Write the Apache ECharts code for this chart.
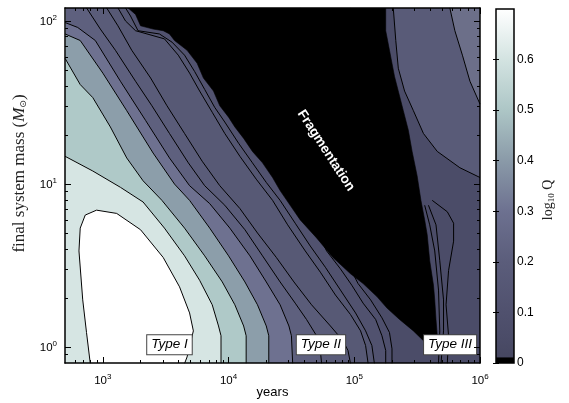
<!DOCTYPE html>
<html>
<head>
<meta charset="utf-8">
<script src="https://cdn.jsdelivr.net/npm/echarts@6/dist/echarts.min.js"></script>
<style>
html, body { margin: 0; padding: 0; background: #fff; }
#chart { width: 569px; height: 403px; }
</style>
</head>
<body>
<div id="chart"></div>
<script>
// Axis ranges, in log10 units (years on x, final system mass on y)
const X_MIN = Math.log10(500), X_MAX = 6;
const Y_MIN = Math.log10(0.8), Y_MAX = Math.log10(120);
const X_DECADES = [3, 4, 5, 6];
const Y_DECADES = [0, 1, 2];
const Q_TICKS = [0, 0.1, 0.2, 0.3, 0.4, 0.5, 0.6];
const Q_MAX = 0.7;

// Contour lines of log10 Q, as [log10 years, log10 mass] points.
// Highest level: closed region around the Type I peak.
const contourPeak = [[2.90,-0.10],[2.87,0.09],[2.84,0.29],[2.81,0.59],[2.82,0.73],[2.86,0.81],[2.95,0.84],[3.11,0.82],[3.30,0.72],[3.48,0.55],[3.61,0.37],[3.69,0.21],[3.72,0.10],[3.67,-0.06],[3.65,-0.10]];
// Then descending levels running from the upper left down to the bottom edge.
const contour1 = [[2.70,1.17],[2.92,1.08],[3.14,0.98],[3.32,0.89],[3.49,0.73],[3.65,0.56],[3.77,0.41],[3.87,0.26],[3.92,0.13],[3.94,0.07],[3.94,-0.10]];
const contour2 = [[2.70,1.77],[2.82,1.61],[2.92,1.53],[3.06,1.35],[3.19,1.16],[3.32,1.02],[3.47,0.90],[3.65,0.73],[3.81,0.56],[3.95,0.40],[4.05,0.26],[4.12,0.13],[4.14,0.07],[4.14,-0.10]];
const contour3 = [[2.70,1.92],[2.82,1.88],[3.00,1.68],[3.19,1.45],[3.40,1.19],[3.57,1.00],[3.69,0.90],[3.85,0.73],[4.00,0.56],[4.13,0.40],[4.23,0.26],[4.30,0.13],[4.32,0.07],[4.32,-0.10]];
const contour4 = [[2.70,1.99],[2.80,1.96],[2.94,1.88],[3.14,1.63],[3.34,1.39],[3.53,1.16],[3.69,0.99],[3.85,0.88],[4.01,0.73],[4.17,0.56],[4.30,0.40],[4.41,0.26],[4.48,0.13],[4.50,0.07],[4.51,-0.10]];
const contour5 = [[2.87,2.08],[2.98,1.95],[3.10,1.82],[3.26,1.63],[3.39,1.48],[3.53,1.31],[3.68,1.13],[3.81,0.99],[3.97,0.87],[4.13,0.72],[4.27,0.56],[4.41,0.40],[4.53,0.27],[4.62,0.17],[4.70,0.07],[4.73,-0.02],[4.74,-0.10]];
const contour6 = [[3.03,2.08],[3.12,1.97],[3.23,1.82],[3.38,1.65],[3.51,1.48],[3.65,1.31],[3.79,1.14],[3.93,0.99],[4.09,0.85],[4.23,0.70],[4.38,0.55],[4.52,0.40],[4.66,0.26],[4.81,0.13],[4.91,0.04],[4.95,-0.02],[4.97,-0.10]];
const contour7 = [[3.12,2.08],[3.18,2.00],[3.26,1.94],[3.49,1.89],[3.60,1.79],[3.69,1.68],[3.77,1.57],[3.87,1.44],[3.97,1.31],[4.09,1.17],[4.22,1.03],[4.35,0.90],[4.47,0.75],[4.61,0.59],[4.73,0.46],[4.85,0.32],[4.97,0.20],[5.05,0.10],[5.09,0.01],[5.11,-0.10]];
const contour8 = [[3.18,2.08],[3.22,2.03],[3.28,1.94],[3.45,1.92],[3.55,1.87],[3.65,1.79],[3.73,1.69],[3.81,1.58],[3.89,1.47],[3.97,1.38],[4.08,1.25],[4.19,1.13],[4.30,1.01],[4.41,0.90],[4.53,0.76],[4.65,0.62],[4.77,0.49],[4.89,0.35],[5.01,0.21],[5.09,0.10],[5.14,0.01],[5.16,-0.10]];
const contour9 = [[4.57,2.08],[4.71,0.70],[4.78,0.59],[4.89,0.48],[4.98,0.38],[5.07,0.27],[5.17,0.17],[5.22,0.07],[5.25,-0.02],[5.25,-0.10]];
const contour10 = [[4.97,2.08],[4.97,0.48],[5.03,0.39],[5.13,0.29],[5.22,0.18],[5.28,0.09],[5.30,-0.01],[5.30,-0.10]];
// Type III side: Q rises again towards the upper right corner
const contourLateA = [[5.31,2.08],[5.33,1.88],[5.35,1.71],[5.40,1.57],[5.47,1.45],[5.55,1.31],[5.66,1.20],[5.84,1.10],[6.00,1.04]];
const contourLateB = [[5.76,2.08],[5.80,1.94],[5.86,1.79],[5.92,1.63],[6.00,1.49]];
// narrow ridge next to the fragmentation edge, lower right
const ridge1 = [[5.56,0.87],[5.60,0.75],[5.64,0.59],[5.67,0.35],[5.68,0.10],[5.67,-0.10]];
const ridge2 = [[5.59,0.87],[5.65,0.75],[5.68,0.53],[5.71,0.29],[5.71,0.10],[5.69,-0.10]];
const ridge3 = [[5.62,0.90],[5.74,0.83],[5.79,0.76],[5.79,0.65],[5.75,0.47],[5.73,0.26],[5.75,0.07],[5.74,-0.10]];

// Fragmentation region: early edge and late edge, both listed top to bottom
const fragEarly = [[3.20,2.08],[3.26,2.04],[3.30,1.97],[3.40,1.95],[3.48,1.94],[3.53,1.92],[3.57,1.88],[3.67,1.82],[3.75,1.74],[3.80,1.65],[3.88,1.57],[3.93,1.48],[4.00,1.41],[4.05,1.35],[4.12,1.28],[4.19,1.20],[4.27,1.13],[4.35,1.04],[4.41,0.96],[4.49,0.87],[4.57,0.78],[4.70,0.67],[4.83,0.55],[4.97,0.45],[5.07,0.39],[5.18,0.31],[5.26,0.24],[5.36,0.17],[5.47,0.10],[5.55,0.04],[5.63,0.00]];
const fragLate = [[5.25,2.08],[5.25,1.94],[5.28,1.82],[5.32,1.66],[5.36,1.54],[5.39,1.45],[5.43,1.33],[5.46,1.20],[5.50,1.05],[5.53,0.90],[5.56,0.78],[5.58,0.69],[5.60,0.53],[5.63,0.38],[5.64,0.29],[5.65,0.17],[5.66,0.07],[5.66,0.01],[5.65,-0.02]];

// Region labels: [log10 years, log10 mass, text]
const regionLabels = [[3.53, 0.015, 'Type I'], [4.735, 0.015, 'Type II'], [5.762, 0.015, 'Type III']];
const fragLabel = [4.775, 1.205, 'Fragmentation'];

// Colours
const BASE_FILL = '#4b4c68';
const INK = '#000';
const colourScale = [[0, '#45465f'], [0.05, '#4b4c68'], [0.1, '#50516e'], [0.2, '#5b5d7b'], [0.3, '#6d7190'], [0.4, '#8a9aa8'], [0.5, '#adc6c6'], [0.6, '#d3e3e1'], [0.7, '#ffffff']];

// Filled bands: each entry shades the high-Q side of a contour
const leftBands = [
  [contour10, '#4e4f6c'],
  [contour9, '#51526f'],
  [contour8, '#545672'],
  [contour7, '#575975'],
  [contour6, '#5a5c79'],
  [contour5, '#5e607e'],
  [contour4, '#6e7190'],
  [contour3, '#8c9eaa'],
  [contour2, '#afc9c8'],
  [contour1, '#d6e5e3'],
  [contourPeak, '#ffffff']
];
const rightBands = [
  [contourLateA, '#595b78'],
  [contourLateB, '#6c6f89']
];

function polygonSeries(points, fill, z) {
  return {
    type: 'custom', xAxisIndex: 0, yAxisIndex: 0, data: points, clip: true, silent: true, z: z,
    renderItem: function (params, api) {
      if (params.dataIndex !== 0) return null;
      return {
        type: 'polygon',
        shape: { points: points.map(function (p) { return api.coord(p); }) },
        style: { fill: fill, stroke: fill, lineWidth: 0.6 }
      };
    }
  };
}
function contourSeries(points) {
  return {
    type: 'line', xAxisIndex: 0, yAxisIndex: 0, data: points, symbol: 'none', clip: true,
    silent: true, z: 3, lineStyle: { color: INK, width: 1 }
  };
}

const series = [];
leftBands.forEach(function (b) {
  const closed = b[0] === contourPeak ? b[0] : b[0].concat([[X_MIN, Y_MIN], [X_MIN, Y_MAX]]);
  series.push(polygonSeries(closed, b[1], 1));
});
rightBands.forEach(function (b) {
  series.push(polygonSeries(b[0].concat([[X_MAX, Y_MAX]]), b[1], 1));
});
[contourPeak, contour1, contour2, contour3, contour4, contour5, contour6, contour7, contour8,
 contour9, contour10, contourLateA, contourLateB, ridge1, ridge2, ridge3].forEach(function (c) {
  series.push(contourSeries(c));
});
series.push(polygonSeries(fragEarly.concat(fragLate.slice().reverse()), '#000000', 4));

// boxed region labels
series.push({
  type: 'scatter', xAxisIndex: 0, yAxisIndex: 0, symbolSize: 0, silent: true, z: 6,
  itemStyle: { opacity: 1 },
  data: regionLabels.map(function (r) { return { value: [r[0], r[1]], name: r[2] }; }),
  label: {
    show: true, position: 'inside', formatter: '{b}', color: '#000', opacity: 1,
    fontFamily: 'Liberation Sans', fontStyle: 'italic', fontSize: 13.5,
    backgroundColor: '#fff', borderColor: '#444', borderWidth: 1, padding: [3, 4, 2, 4]
  }
});
series.push({
  type: 'scatter', xAxisIndex: 0, yAxisIndex: 0, symbolSize: 0, silent: true, z: 6,
  itemStyle: { opacity: 1 },
  data: [{ value: [fragLabel[0], fragLabel[1]], name: fragLabel[2] }],
  label: {
    show: true, position: 'inside', formatter: '{b}', color: '#fff', opacity: 1, rotate: -57,
    fontFamily: 'Liberation Sans', fontWeight: 'bold', fontSize: 13.5
  }
});

// colour bar
series.push({
  type: 'custom', xAxisIndex: 4, yAxisIndex: 4, data: [[0, 0], [1, Q_MAX]], silent: true, z: 2,
  renderItem: function (params, api) {
    if (params.dataIndex !== 0) return null;
    const p0 = api.coord([0, 0]), p1 = api.coord([1, Q_MAX]), pb = api.coord([1, 0.011]);
    return {
      type: 'group',
      children: [
        { type: 'rect', shape: { x: p0[0], y: p1[1], width: p1[0] - p0[0], height: p0[1] - p1[1] },
          style: { fill: { type: 'linear', x: 0, y: 1, x2: 0, y2: 0,
            colorStops: colourScale.map(function (s) { return { offset: s[0] / Q_MAX, color: s[1] }; }) } } },
        { type: 'rect', shape: { x: p0[0], y: pb[1], width: p1[0] - p0[0], height: p0[1] - pb[1] },
          style: { fill: '#000' } },
        { type: 'rect', shape: { x: p0[0], y: p1[1], width: p1[0] - p0[0], height: p0[1] - p1[1] },
          style: { fill: 'none', stroke: '#000', lineWidth: 1.5 } }
      ]
    };
  }
});

// minor (log) tick positions
const minorX = [], minorY = [];
for (let n = 2; n <= 5; n++) for (let k = 2; k <= 9; k++) {
  const v = n + Math.log10(k); if (v > X_MIN + 1e-6 && v < X_MAX) minorX.push(v);
}
for (let n = -1; n <= 2; n++) for (let k = 2; k <= 9; k++) {
  const v = n + Math.log10(k); if (v > Y_MIN + 1e-6 && v < Y_MAX) minorY.push(v);
}

const tickFont = 'Liberation Sans';
const powRich = {
  b: { fontSize: 11.5, fontFamily: tickFont, color: '#000', verticalAlign: 'bottom' },
  s: { fontSize: 8, fontFamily: tickFont, color: '#000', verticalAlign: 'bottom', padding: [0, 0, 6, 0] }
};
function powLabel(v) { return '{b|10}{s|' + Math.round(v) + '}'; }
const frameLine = { show: true, onZero: false, lineStyle: { color: '#000', width: 1.5 } };

function frameAxis(position, min, max, ticks, len, line, extra) {
  return Object.assign({
    type: 'value', gridIndex: 0, position: position, min: min, max: max, z: 10,
    axisLine: line ? frameLine : { show: false, onZero: false },
    axisTick: { show: true, inside: true, length: len, customValues: ticks, lineStyle: { color: '#000', width: 1 } },
    axisLabel: { show: false },
    splitLine: { show: false }
  }, extra || {});
}

const option = {
  animation: false,
  grid: [
    { left: 65, top: 8, width: 415, height: 355, show: true, backgroundColor: BASE_FILL, borderWidth: 0,
      containLabel: false, outerBoundsMode: 'none' },
    { left: 496, top: 9, width: 18, height: 354, containLabel: false, outerBoundsMode: 'none' }
  ],
  xAxis: [
    frameAxis('bottom', X_MIN, X_MAX, X_DECADES, 6, true, {
      axisLabel: { show: true, customValues: X_DECADES, margin: 10, formatter: powLabel, rich: powRich },
      name: 'years', nameLocation: 'middle', nameGap: 23, nameMoveOverlap: false,
      nameTextStyle: { fontFamily: tickFont, fontSize: 13, color: '#000' }
    }),
    frameAxis('bottom', X_MIN, X_MAX, minorX, 3, false),
    frameAxis('top', X_MIN, X_MAX, X_DECADES, 6, true),
    frameAxis('top', X_MIN, X_MAX, minorX, 3, false),
    { type: 'value', gridIndex: 1, min: 0, max: 1, show: false },
    { type: 'value', gridIndex: 1, min: 0, max: 1, show: false, position: 'top' }
  ],
  yAxis: [
    frameAxis('left', Y_MIN, Y_MAX, Y_DECADES, 6, true, {
      axisLabel: { show: true, customValues: Y_DECADES, margin: 8, formatter: powLabel, rich: powRich },
      name: 'final system mass ({i|M}{o|⊙})', nameLocation: 'middle', nameGap: 37, nameRotate: 90,
      nameMoveOverlap: false,
      nameTextStyle: {
        fontFamily: 'Liberation Serif', fontSize: 17, color: '#222', padding: [0, 0, 0, 24],
        rich: {
          i: { fontFamily: 'Liberation Serif', fontStyle: 'italic', fontSize: 17, color: '#222' },
          o: { fontFamily: 'DejaVu Sans', fontSize: 9, color: '#222', verticalAlign: 'top', padding: [8, 0, 0, 0] }
        }
      }
    }),
    frameAxis('left', Y_MIN, Y_MAX, minorY, 3, false),
    frameAxis('right', Y_MIN, Y_MAX, Y_DECADES, 6, true),
    frameAxis('right', Y_MIN, Y_MAX, minorY, 3, false),
    {
      type: 'value', gridIndex: 1, position: 'right', min: 0, max: Q_MAX, z: 10,
      axisLine: { show: false },
      axisTick: { show: true, inside: true, length: 3, customValues: Q_TICKS, lineStyle: { color: '#000', width: 1 } },
      axisLabel: { show: true, customValues: Q_TICKS, margin: 3, fontFamily: tickFont, fontSize: 12, color: '#000',
        formatter: function (v) { return v === 0 ? '0' : v.toFixed(1); } },
      splitLine: { show: false },
      name: 'log{s|10} Q', nameLocation: 'middle', nameGap: 26, nameRotate: 90, nameMoveOverlap: false,
      nameTextStyle: {
        fontFamily: 'Liberation Serif', fontSize: 14, color: '#222', padding: [0, 28, 0, 0],
        rich: { s: { fontFamily: 'Liberation Serif', fontSize: 9, color: '#222', verticalAlign: 'top', padding: [7, 0, 0, 0] } }
      }
    },
    {
      type: 'value', gridIndex: 1, position: 'left', min: 0, max: Q_MAX, z: 10,
      axisLine: { show: false },
      axisTick: { show: true, inside: true, length: 3, customValues: Q_TICKS, lineStyle: { color: '#000', width: 1 } },
      axisLabel: { show: false },
      splitLine: { show: false }
    }
  ],
  series: series
};

const chart = echarts.init(document.getElementById('chart'), null, { renderer: 'canvas' });
chart.setOption(option);
</script>
</body>
</html>
